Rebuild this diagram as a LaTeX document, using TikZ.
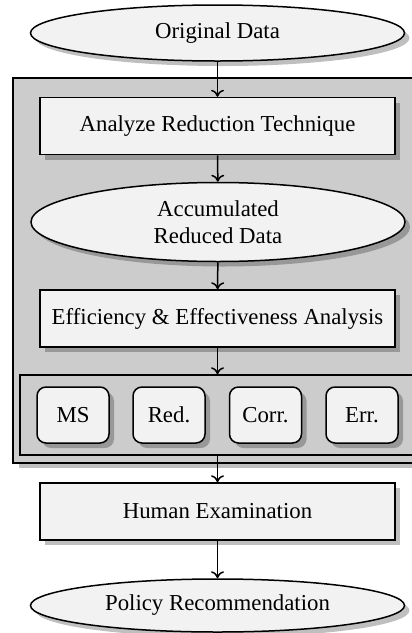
\documentclass[tikz,border=0pt]{standalone}
\usepackage{fontspec}
\setmainfont{Liberation Serif}
\usetikzlibrary{shapes.geometric,shadows,arrows.meta}
\tikzset{
  base/.style={draw=black, line width=1.5pt, fill=white!95!black, inner sep=0pt,
    font=\fontsize{22.8}{27}\selectfont, align=center,
    drop shadow={shadow xshift=5pt, shadow yshift=-5pt, fill=black, opacity=0.25}},
  databox/.style={base, ellipse, minimum width=374pt, minimum height=56pt},
  procbox/.style={base, rectangle, minimum width=355pt, minimum height=57pt},
  metricbox/.style={base, rectangle, rounded corners=9pt, minimum width=72pt, minimum height=56pt},
  groupbox/.style={draw=black, line width=1.5pt, fill=black!20, rectangle, inner sep=0pt},
  flow/.style={line width=1.5pt, -{To[length=7pt,width=13pt]}}
}
\begin{document}
\begin{tikzpicture}[x=1pt, y=-1pt]
\useasboundingbox (0,0) rectangle (412,633);
\node[groupbox, minimum width=412pt, minimum height=385pt,
  drop shadow={shadow xshift=6pt, shadow yshift=-5pt, fill=black, opacity=0.25}] (outer) at (219,270.5) {};
\node[groupbox, minimum width=400pt, minimum height=80pt] (inner) at (220,415) {};

\node[databox] (orig) at (217.5,33) {Original Data};
\node[procbox] (analyze) at (217.5,126) {Analyze Reduction Technique};
\node[databox, minimum height=79pt] (acc) at (218,222) {Accumulated\\Reduced Data};
\node[procbox] (eff) at (217.5,318.5) {Efficiency \& Effectiveness Analysis};
\node[metricbox] (ms) at (73,415) {MS};
\node[metricbox] (red) at (169,415) {Red.};
\node[metricbox] (corr) at (265.5,415) {Corr.};
\node[metricbox] (err) at (362,415) {Err.};
\node[procbox] (human) at (217.5,511.5) {Human Examination};
\node[databox, minimum height=53pt] (policy) at (217.5,605.5) {Policy Recommendation};

\draw[flow] (orig) -- (analyze);
\draw[flow] (analyze) -- (acc);
\draw[flow] (acc) -- (eff);
\draw[flow] (eff.south) -- (eff.south |- inner.north);
\draw[flow] (human.north |- inner.south) -- (human.north);
\draw[flow] (human) -- (policy);
\end{tikzpicture}
\end{document}
